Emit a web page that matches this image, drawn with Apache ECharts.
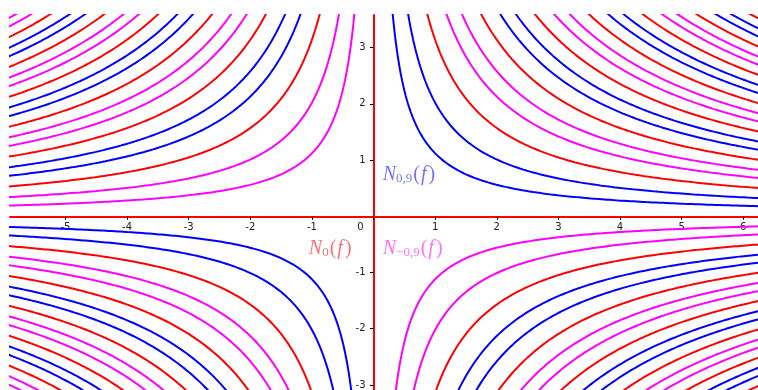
<!DOCTYPE html>
<html>
<head>
<meta charset="utf-8">
<script src="https://cdn.jsdelivr.net/npm/echarts@6/dist/echarts.min.js"></script>
<style>
  html, body { margin: 0; padding: 0; background: #fff; }
  #chart { width: 758px; height: 390px; }
</style>
</head>
<body>
<div id="chart"></div>
<script>
// Level sets N_c(f) of f(x, y) = sin(xy): each curve is a hyperbola xy = k with sin(k) = c.
// Products k for N_0 (the axes themselves, k = 0, are N_0 too)
const levelZero = [-21.99, -18.85, -15.71, -12.57, -9.42, -6.28, -3.14,
                   3.14, 6.28, 9.42, 12.57, 15.71, 18.85, 21.99];
// Products k for N_{0,9}
const levelPlus = [1.12, 2.02, 7.40, 8.31, 13.69, 14.59, 19.97, 20.87,
                   -4.26, -5.16, -10.54, -11.45, -16.83, -17.73];
// Products k for N_{-0,9}
const levelMinus = [-1.12, -2.02, -7.40, -8.31, -13.69, -14.59, -19.97, -20.87,
                    4.26, 5.16, 10.54, 11.45, 16.83, 17.73];

const xTickValues = [-5, -4, -3, -2, -1, 0, 1, 2, 3, 4, 5, 6];
const yTickValues = [-3, -2, -1, 1, 2, 3];

const labelNames = ['{n|N}{s|0,9}{p|(}{f|f}{p|)}', '{n|N}{s|0}{p|(}{f|f}{p|)}', '{n|N}{s|−0,9}{p|(}{f|f}{p|)}'];
const labelAnchors = [[0.15, 0.74], [-1.05, -0.58], [0.15, -0.58]];

const X_MIN = -5.9, X_MAX = 6.24, Y_MIN = -3.09, Y_MAX = 3.58;

const RED = '#ff0000', BLUE = '#0000ff', MAGENTA = '#ff00ff';

// Plot area and the offsets that put both axes through the origin
const W = 758, H = 390;
const G = { left: 10, right: 0, top: 15, bottom: 0 };
const gridW = W - G.left - G.right, gridH = H - G.top - G.bottom;
const zeroX = G.left + (0 - X_MIN) / (X_MAX - X_MIN) * gridW;
const zeroY = G.top + (Y_MAX - 0) / (Y_MAX - Y_MIN) * gridH;
const yAxisOffset = -(zeroX - G.left);
const xAxisOffset = -(G.top + gridH - zeroY);

// One branch of xy = k on the side of the y-axis given by sx (+1 or -1),
// sampled geometrically so both the steep and flat parts stay smooth.
function branch(k, sx) {
  const sy = Math.sign(k) * sx;
  const xLim = sx > 0 ? X_MAX : -X_MIN;
  const yLim = sy > 0 ? Y_MAX : -Y_MIN;
  const a = Math.abs(k);
  const lo = a / (yLim * 1.05), hi = xLim * 1.05;
  if (lo >= hi) return null;
  const pts = [];
  const n = 260;
  for (let i = 0; i <= n; i++) {
    const u = lo * Math.pow(hi / lo, i / n);
    pts.push([sx * u, sy * a / u]);
  }
  return pts;
}

const series = [];
function addFamily(levels, color) {
  levels.forEach(k => {
    [1, -1].forEach(sx => {
      const d = branch(k, sx);
      if (!d) return;
      series.push({
        type: 'line', data: d, showSymbol: false, clip: true, silent: true,
        lineStyle: { color: color, width: 2 }, z: 3
      });
    });
  });
}
addFamily(levelZero, RED);
addFamily(levelPlus, BLUE);
addFamily(levelMinus, MAGENTA);

function richFor(color) {
  const serif = '"Liberation Serif", "DejaVu Serif", serif';
  return {
    n: { fontFamily: serif, fontStyle: 'italic', fontSize: 20, color: color },
    s: { fontFamily: serif, fontSize: 13, color: color, padding: [8, 1, 0, 0] },
    p: { fontFamily: serif, fontSize: 20, color: color },
    f: { fontFamily: serif, fontStyle: 'italic', fontSize: 20, color: color, padding: [0, 2, 0, 1] }
  };
}
const labelColors = ['rgba(0,0,255,0.7)', 'rgba(255,0,0,0.7)', 'rgba(255,0,255,0.7)'];
labelNames.forEach((txt, i) => {
  series.push({
    type: 'scatter', silent: true, symbolSize: 0, z: 4,
    data: [labelAnchors[i]],
    label: {
      show: true, position: 'right', distance: 0,
      formatter: txt, rich: richFor(labelColors[i])
    }
  });
});

const axisFont = { fontFamily: '"DejaVu Sans", sans-serif', fontSize: 10, color: '#222' };

const chart = echarts.init(document.getElementById('chart'), null, { renderer: 'canvas' });
chart.setOption({
  animation: false,
  backgroundColor: '#ffffff',
  grid: { left: G.left, right: G.right, top: G.top, bottom: G.bottom, containLabel: false, outerBoundsMode: 'none' },
  xAxis: {
    type: 'value', min: X_MIN, max: X_MAX, position: 'bottom', offset: xAxisOffset,
    splitLine: { show: false },
    axisLine: { show: true, onZero: false, lineStyle: { color: RED, width: 2 } },
    axisTick: { show: true, length: 3.5, customValues: xTickValues, lineStyle: { color: '#000', width: 1 } },
    axisLabel: {
      show: true, margin: 6, customValues: xTickValues, ...axisFont,
      formatter: v => v === 0 ? '{z|0}' : String(v),
      rich: { z: { ...axisFont, padding: [0, 26, 0, 0] } }
    }
  },
  yAxis: {
    type: 'value', min: Y_MIN, max: Y_MAX, position: 'left', offset: yAxisOffset,
    splitLine: { show: false },
    axisLine: { show: true, onZero: false, lineStyle: { color: RED, width: 2 } },
    axisTick: { show: true, length: 3.5, customValues: yTickValues, lineStyle: { color: '#000', width: 1 } },
    axisLabel: { show: true, margin: 8, customValues: yTickValues, ...axisFont }
  },
  series: series
});
</script>
</body>
</html>
